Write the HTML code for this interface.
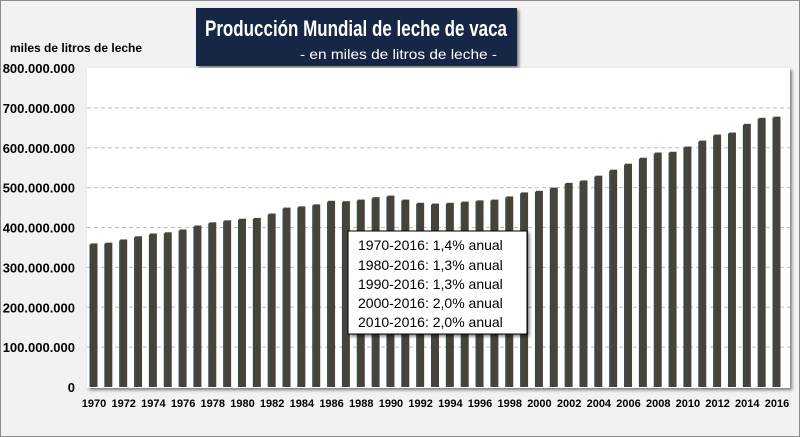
<!DOCTYPE html>
<html><head><meta charset="utf-8"><style>
body{margin:0;width:800px;height:437px;overflow:hidden;background:#fff;font-family:"Liberation Sans",sans-serif}
#wrap{position:absolute;left:0;top:0;width:798px;height:435px;border:1px solid #8c8c8c;background:#f2f2f2}
</style></head><body>
<div id="wrap"></div>
<svg id="chart" width="800" height="437" style="position:absolute;left:0;top:0">
<defs><filter id="sh" x="-10%" y="-10%" width="130%" height="130%"><feDropShadow dx="2" dy="2" stdDeviation="1.5" flood-color="#000" flood-opacity="0.5"/></filter></defs>
<rect x="196" y="8" width="321" height="58" fill="#132844" filter="url(#sh)"/>
<text x="205" y="36" font-size="22" font-weight="bold" fill="#fff" textLength="302" lengthAdjust="spacingAndGlyphs">Producción Mundial de leche de vaca</text>
<text x="300" y="59" font-size="14" fill="#fff" textLength="197" lengthAdjust="spacingAndGlyphs">- en miles de litros de leche -</text>
<text x="10" y="52" font-size="12" font-weight="bold" fill="#000">miles de litros de leche</text>
<rect x="87" y="68" width="703" height="320" fill="#fff" filter="url(#sh)"/>
<g id="grid"></g><g id="bars"></g><g id="yt"></g><g id="xt"></g>
<rect x="348" y="231" width="179" height="103" fill="#fff" stroke="#000" stroke-width="1" filter="url(#sh)"/>
<g font-size="14" fill="#000">
<text x="358" y="250">1970-2016: 1,4% anual</text>
<text x="358" y="270">1980-2016: 1,3% anual</text>
<text x="358" y="289">1990-2016: 1,3% anual</text>
<text x="358" y="308">2000-2016: 2,0% anual</text>
<text x="358" y="327">2010-2016: 2,0% anual</text>
</g>
</svg>
<script>
const years=[1970,1971,1972,1973,1974,1975,1976,1977,1978,1979,1980,1981,1982,1983,1984,1985,1986,1987,1988,1989,1990,1991,1992,1993,1994,1995,1996,1997,1998,1999,2000,2001,2002,2003,2004,2005,2006,2007,2008,2009,2010,2011,2012,2013,2014,2015,2016];
const production=[360,362,370,378,385,388,395,405,413,418,422,424,435,450,453,458,467,466,470,476,480,470,462,460,462,465,468,470,478,488,492,500,512,518,530,545,560,575,588,590,603,618,633,638,660,675,678];
const yTicks=[0,100,200,300,400,500,600,700,800];
const yTickLabels=["0","100.000.000","200.000.000","300.000.000","400.000.000","500.000.000","600.000.000","700.000.000","800.000.000"];
const NS="http://www.w3.org/2000/svg";
const y=v=>387-v*(319/800);
const x=i=>94+i*(683/46);
function mk(t,a,p){const e=document.createElementNS(NS,t);for(const k in a)e.setAttribute(k,a[k]);p.appendChild(e);return e;}
const g=document.getElementById('grid'),b=document.getElementById('bars'),yt=document.getElementById('yt'),xt=document.getElementById('xt');
yTicks.forEach((v,i)=>{
 if(v>0&&v<800){const l=mk('line',{x1:87,x2:790,y1:y(v),y2:y(v),stroke:'#bfbfbf','stroke-dasharray':'4,3'},g);
 
 }
 const t=mk('text',{x:75,y:y(v)+5,'text-anchor':'end','font-size':13,'font-weight':'bold'},yt);t.textContent=yTickLabels[i];
 
 
});
production.forEach((v,i)=>{
 const r=mk('rect',{x:x(i)-3.5,y:y(v),width:7,height:387-y(v),fill:'#46443a'},b);
 
 
 mk('rect',{x:x(i)-4.5,y:y(v)+1,width:1.2,height:386-y(v),fill:'#2e4a4a'},b);
 if(i%2===0){const t=mk('text',{x:x(i),y:407,'text-anchor':'middle','font-size':11,'font-weight':'bold'},xt);t.textContent=years[i];
 
 }
});
</script>
</body></html>
